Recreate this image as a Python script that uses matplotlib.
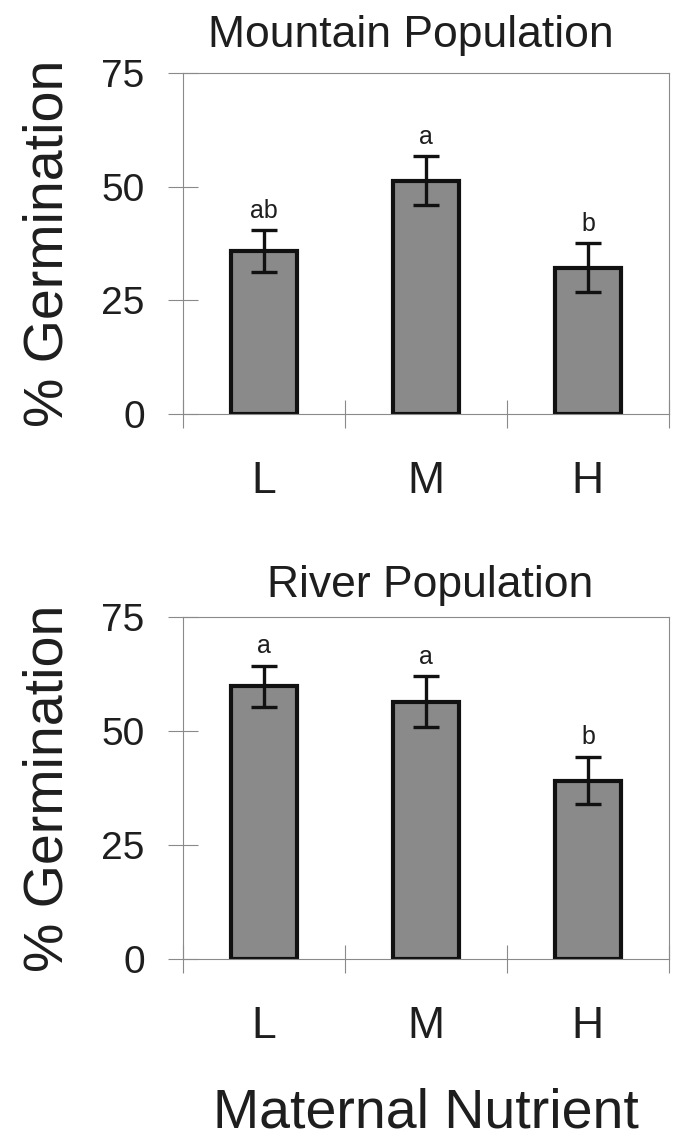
import matplotlib
matplotlib.use('Agg')
from matplotlib import pyplot as plt
import numpy as np

plt.rcParams['font.family'] = ['Liberation Sans', 'DejaVu Sans']

# dados
categorias = ['L', 'M', 'H']
mountain_media = [35.8, 51.3, 32.2]
mountain_erro = [4.6, 5.4, 5.4]
mountain_letras = ['ab', 'a', 'b']
river_media = [59.8, 56.4, 39.1]
river_erro = [4.5, 5.6, 5.2]
river_letras = ['a', 'a', 'b']
yticks = [0, 25, 50, 75]

cinza = '#8a8a8a'
texto = '#1e1e1e'

fig = plt.figure(figsize=(6.75, 11.43), dpi=100)
ax1 = fig.add_axes([0.271, 0.6378, 0.72, 0.2983])
ax2 = fig.add_axes([0.271, 0.161, 0.72, 0.2992])


def painel(ax, medias, erros, letras, titulo, tx, tpad):
    pos = np.arange(len(categorias))
    ax.bar(pos, medias, 0.41, color='#8a8a8a', edgecolor='#111111',
           linewidth=3, zorder=2)
    ax.errorbar(pos, medias, yerr=erros, fmt='none', ecolor='#111111',
                elinewidth=2.4, capsize=9.5, capthick=2.4, zorder=3)
    for p, m, e, l in zip(pos, medias, erros, letras):
        ax.annotate(l, (p, m + e), xytext=(0, 9), textcoords='offset points',
                    ha='center', va='baseline', fontsize=18, color=texto)
    ax.set_xlim(-0.5, 2.5)
    ax.set_ylim(0, 75)
    ax.set_yticks(yticks)
    ax.set_xticks(np.arange(len(categorias) + 1) - 0.5)
    ax.set_xticklabels([])
    ax.set_xticks(pos, minor=True)
    ax.set_xticklabels(categorias, minor=True)
    ax.tick_params(axis='y', direction='inout', length=21, width=0.8,
                   color=cinza, labelsize=28, labelcolor=texto, pad=17)
    ax.tick_params(axis='x', which='major', direction='inout', length=20,
                   width=0.8, color=cinza)
    ax.tick_params(axis='x', which='minor', length=0, labelsize=32,
                   labelcolor=texto, pad=34)
    for s in ax.spines.values():
        s.set_color(cinza)
        s.set_linewidth(0.8)
    ax.set_ylabel('% Germination', fontsize=40, color=texto)
    ax.yaxis.set_label_coords(-0.224, 0.5)
    ax.set_title(titulo, fontsize=32, color=texto, x=tx, pad=tpad)


painel(ax1, mountain_media, mountain_erro, mountain_letras,
       'Mountain Population', 0.469, 19)
painel(ax2, river_media, river_erro, river_letras,
       'River Population', 0.508, 14.5)

ax2.set_xlabel('Maternal Nutrient', fontsize=40, color=texto)
ax2.xaxis.set_label_coords(0.5, -0.375)

fig.savefig('out.png', dpi=100)
